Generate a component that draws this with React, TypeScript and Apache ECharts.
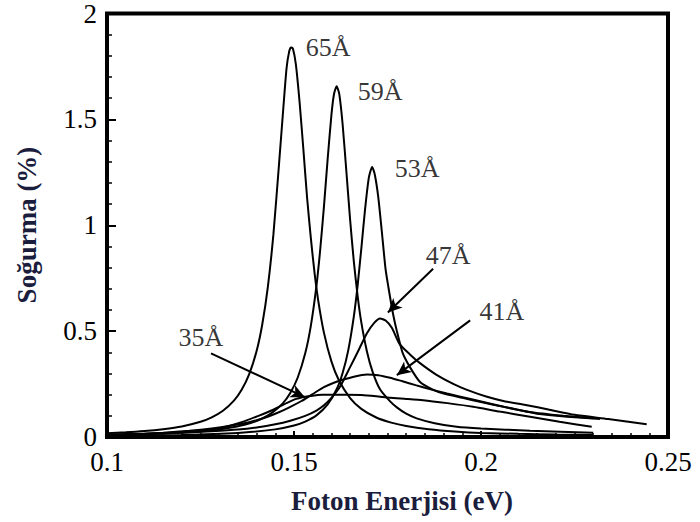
import { useEffect, useRef } from "react";
import * as echarts from "echarts";

// Axis ticks
const xTicks = [0.1, 0.15, 0.2, 0.25];
const yTicks = [0, 0.5, 1, 1.5, 2];

// 65 Å well
const energy65 = [0.100, 0.105, 0.110, 0.115, 0.120, 0.125, 0.128, 0.131, 0.134, 0.136, 0.138, 0.140, 0.1415, 0.143, 0.1445, 0.146, 0.147, 0.148, 0.1487, 0.1492, 0.1497, 0.1505, 0.1515, 0.1525, 0.1535, 0.1545, 0.1555, 0.1565, 0.158, 0.160, 0.162, 0.165, 0.168, 0.172, 0.176, 0.180, 0.186, 0.193, 0.200, 0.210, 0.220, 0.230];
const absorb65 = [0.018, 0.022, 0.028, 0.037, 0.050, 0.072, 0.093, 0.124, 0.173, 0.223, 0.296, 0.406, 0.53, 0.708, 0.958, 1.29, 1.52, 1.74, 1.82, 1.84, 1.835, 1.76, 1.58, 1.36, 1.13, 0.94, 0.774, 0.642, 0.493, 0.357, 0.268, 0.184, 0.133, 0.092, 0.068, 0.052, 0.037, 0.026, 0.019, 0.015, 0.012, 0.01];

// 59 Å well
const energy59 = [0.100, 0.110, 0.120, 0.126, 0.132, 0.137, 0.141, 0.144, 0.147, 0.149, 0.151, 0.153, 0.1545, 0.156, 0.157, 0.158, 0.159, 0.160, 0.1607, 0.1614, 0.1621, 0.163, 0.164, 0.165, 0.166, 0.167, 0.168, 0.1695, 0.171, 0.173, 0.1757, 0.1775, 0.180, 0.1828, 0.1876, 0.1935, 0.200, 0.2131, 0.230];
const absorb59 = [0.0097, 0.0137, 0.021, 0.0287, 0.0413, 0.059, 0.0836, 0.113, 0.159, 0.208, 0.281, 0.395, 0.525, 0.714, 0.883, 1.087, 1.313, 1.52, 1.62, 1.656, 1.62, 1.477, 1.255, 1.027, 0.828, 0.668, 0.541, 0.404, 0.309, 0.225, 0.168, 0.14, 0.11, 0.088, 0.065, 0.048, 0.04, 0.03, 0.02];

// 53 Å well
const energy53 = [0.100, 0.120, 0.135, 0.145, 0.150, 0.153, 0.156, 0.159, 0.1615, 0.163, 0.1645, 0.166, 0.167, 0.168, 0.169, 0.170, 0.1709, 0.1716, 0.1725, 0.1735, 0.1745, 0.1755, 0.1765, 0.1775, 0.179, 0.181, 0.1837, 0.187, 0.190, 0.195, 0.200, 0.206, 0.213, 0.222, 0.230];
const absorb53 = [0.005, 0.0095, 0.019, 0.036, 0.054, 0.0727, 0.102, 0.154, 0.229, 0.302, 0.409, 0.57, 0.714, 0.89, 1.075, 1.224, 1.275, 1.24, 1.137, 0.967, 0.79, 0.68, 0.58, 0.50, 0.40, 0.33, 0.26, 0.225, 0.205, 0.185, 0.165, 0.143, 0.118, 0.10, 0.088];

// 47 Å well
const energy47 = [0.100, 0.110, 0.120, 0.128, 0.135, 0.140, 0.145, 0.149, 0.153, 0.156, 0.158, 0.160, 0.1623, 0.165, 0.167, 0.1695, 0.1715, 0.173, 0.1745, 0.1762, 0.1782, 0.181, 0.1836, 0.188, 0.1927, 0.197, 0.2016, 0.2065, 0.2123, 0.218, 0.225, 0.234, 0.2443];
const absorb47 = [0.012, 0.015, 0.02, 0.027, 0.035, 0.045, 0.06, 0.077, 0.10, 0.125, 0.15, 0.185, 0.237, 0.33, 0.40, 0.49, 0.54, 0.56, 0.55, 0.515, 0.44, 0.39, 0.35, 0.295, 0.25, 0.218, 0.19, 0.168, 0.15, 0.13, 0.105, 0.085, 0.06];

// 41 Å well
const energy41 = [0.100, 0.108, 0.115, 0.122, 0.128, 0.133, 0.138, 0.142, 0.145, 0.1485, 0.152, 0.155, 0.158, 0.1605, 0.163, 0.166, 0.1695, 0.1725, 0.1757, 0.179, 0.1825, 0.1865, 0.1909, 0.1975, 0.2043, 0.2095, 0.215, 0.223, 0.2318];
const absorb41 = [0.01, 0.014, 0.02, 0.029, 0.04, 0.053, 0.07, 0.09, 0.11, 0.138, 0.17, 0.203, 0.235, 0.255, 0.27, 0.285, 0.295, 0.292, 0.28, 0.263, 0.245, 0.225, 0.205, 0.178, 0.15, 0.13, 0.11, 0.096, 0.085];

// 35 Å well
const energy35 = [0.100, 0.108, 0.115, 0.121, 0.1268, 0.131, 0.136, 0.1405, 0.1446, 0.148, 0.1506, 0.153, 0.155, 0.1575, 0.160, 0.164, 0.168, 0.172, 0.1757, 0.180, 0.1845, 0.191, 0.1979, 0.205, 0.2131, 0.221, 0.2296];
const absorb35 = [0.008, 0.012, 0.018, 0.024, 0.03, 0.045, 0.07, 0.1, 0.13, 0.16, 0.18, 0.19, 0.195, 0.199, 0.2, 0.2, 0.198, 0.192, 0.185, 0.18, 0.174, 0.16, 0.143, 0.12, 0.096, 0.072, 0.048];

// Curve annotations (label text, label anchor in data units)
const labelTexts = ["65Å", "59Å", "53Å", "47Å", "41Å", "35Å"];
const labelEnergy = [0.1591, 0.1730, 0.1829, 0.1912, 0.2056, 0.1251];
const labelAbsorb = [1.84, 1.633, 1.266, 0.856, 0.593, 0.471];

// Arrows: [start, tip] in data units
const arrow35 = [[0.1278, 0.395], [0.1529, 0.188]];
const arrow47 = [[0.1872, 0.795], [0.1751, 0.588]];
const arrow41 = [[0.1971, 0.551], [0.1775, 0.292]];

const zip = (xs: number[], ys: number[]) => xs.map((x, i) => [x, ys[i]]);

const SERIF = "'Liberation Serif', 'Times New Roman', serif";
const TITLE_COLOR = "#1b1d3d";

export default function App() {
  const ref = useRef<HTMLDivElement>(null);

  useEffect(() => {
    if (!ref.current) return;
    const chart = echarts.init(ref.current, undefined, { renderer: "svg" });

    const curves = [
      zip(energy65, absorb65),
      zip(energy59, absorb59),
      zip(energy53, absorb53),
      zip(energy47, absorb47),
      zip(energy41, absorb41),
      zip(energy35, absorb35),
    ];

    const lineSeries = curves.map((d, i) => ({
      type: "line",
      name: labelTexts[i],
      data: d,
      showSymbol: false,
      symbol: "none",
      smooth: 0.2,
      lineStyle: { color: "#000", width: 2 },
      z: 3,
    }));

    const arrowData = [arrow35, arrow47, arrow41].map((a) => [
      { coord: a[0] },
      { coord: a[1] },
    ]);

    const option: any = {
      animation: false,
      backgroundColor: "#fff",
      grid: {
        left: 107,
        right: 32,
        top: 12,
        bottom: 85,
        show: true,
        borderColor: "#000",
        borderWidth: 4,
        backgroundColor: "transparent",
      },
      xAxis: {
        type: "value",
        min: xTicks[0],
        max: xTicks[xTicks.length - 1],
        interval: 0.05,
        axisLine: { show: false },
        axisTick: { inside: true, length: 6, lineStyle: { color: "#000", width: 2 } },
        minorTick: { show: true, splitNumber: 10, length: 4, lineStyle: { color: "#000", width: 1.5 } },
        splitLine: { show: false },
        minorSplitLine: { show: false },
        axisLabel: {
          color: "#000",
          fontFamily: SERIF,
          fontSize: 27,
          margin: 11,
          formatter: (v: number) => String(Math.round(v * 100) / 100),
        },
      },
      yAxis: {
        type: "value",
        min: yTicks[0],
        max: yTicks[yTicks.length - 1],
        interval: 0.5,
        axisLine: { show: false },
        axisTick: { inside: true, length: 9, lineStyle: { color: "#000", width: 2 } },
        minorTick: { show: true, splitNumber: 5, length: 5, lineStyle: { color: "#000", width: 1.5 } },
        splitLine: { show: false },
        minorSplitLine: { show: false },
        axisLabel: {
          color: "#000",
          fontFamily: SERIF,
          fontSize: 27,
          margin: 10,
          formatter: (v: number) => String(Math.round(v * 10) / 10),
        },
      },
      series: [
        ...lineSeries,
        {
          type: "line",
          name: "arrows",
          data: [],
          markLine: {
            silent: true,
            symbol: ["none", "arrow"],
            symbolSize: [10, 14],
            label: { show: false },
            lineStyle: { color: "#000", width: 2, type: "solid" },
            data: arrowData,
          },
          z: 4,
        },
        {
          type: "scatter",
          name: "labels",
          symbolSize: 0,
          data: labelTexts.map((t, i) => ({ name: t, value: [labelEnergy[i], labelAbsorb[i]] })),
          label: {
            show: true,
            position: "inside",
            formatter: (p: any) => p.name,
            color: "#000",
            fontFamily: SERIF,
            fontSize: 26,
          },
          z: 5,
        },
      ],
      graphic: [
        {
          type: "text",
          x: 402,
          y: 501,
          style: {
            text: "Foton Enerjisi (eV)",
            fontFamily: SERIF,
            fontWeight: "bold",
            fontSize: 27,
            fill: TITLE_COLOR,
            align: "center",
            verticalAlign: "middle",
          },
        },
        {
          type: "text",
          x: 27,
          y: 225,
          rotation: Math.PI / 2,
          style: {
            text: "Soğurma (%)",
            fontFamily: SERIF,
            fontWeight: "bold",
            fontSize: 27,
            fill: TITLE_COLOR,
            align: "center",
            verticalAlign: "middle",
          },
        },
      ],
    };

    chart.setOption(option);
    return () => chart.dispose();
  }, []);

  return (
    <div
      ref={ref}
      style={{ position: "fixed", left: 0, top: 0, width: 700, height: 522, background: "#fff" }}
    />
  );
}
